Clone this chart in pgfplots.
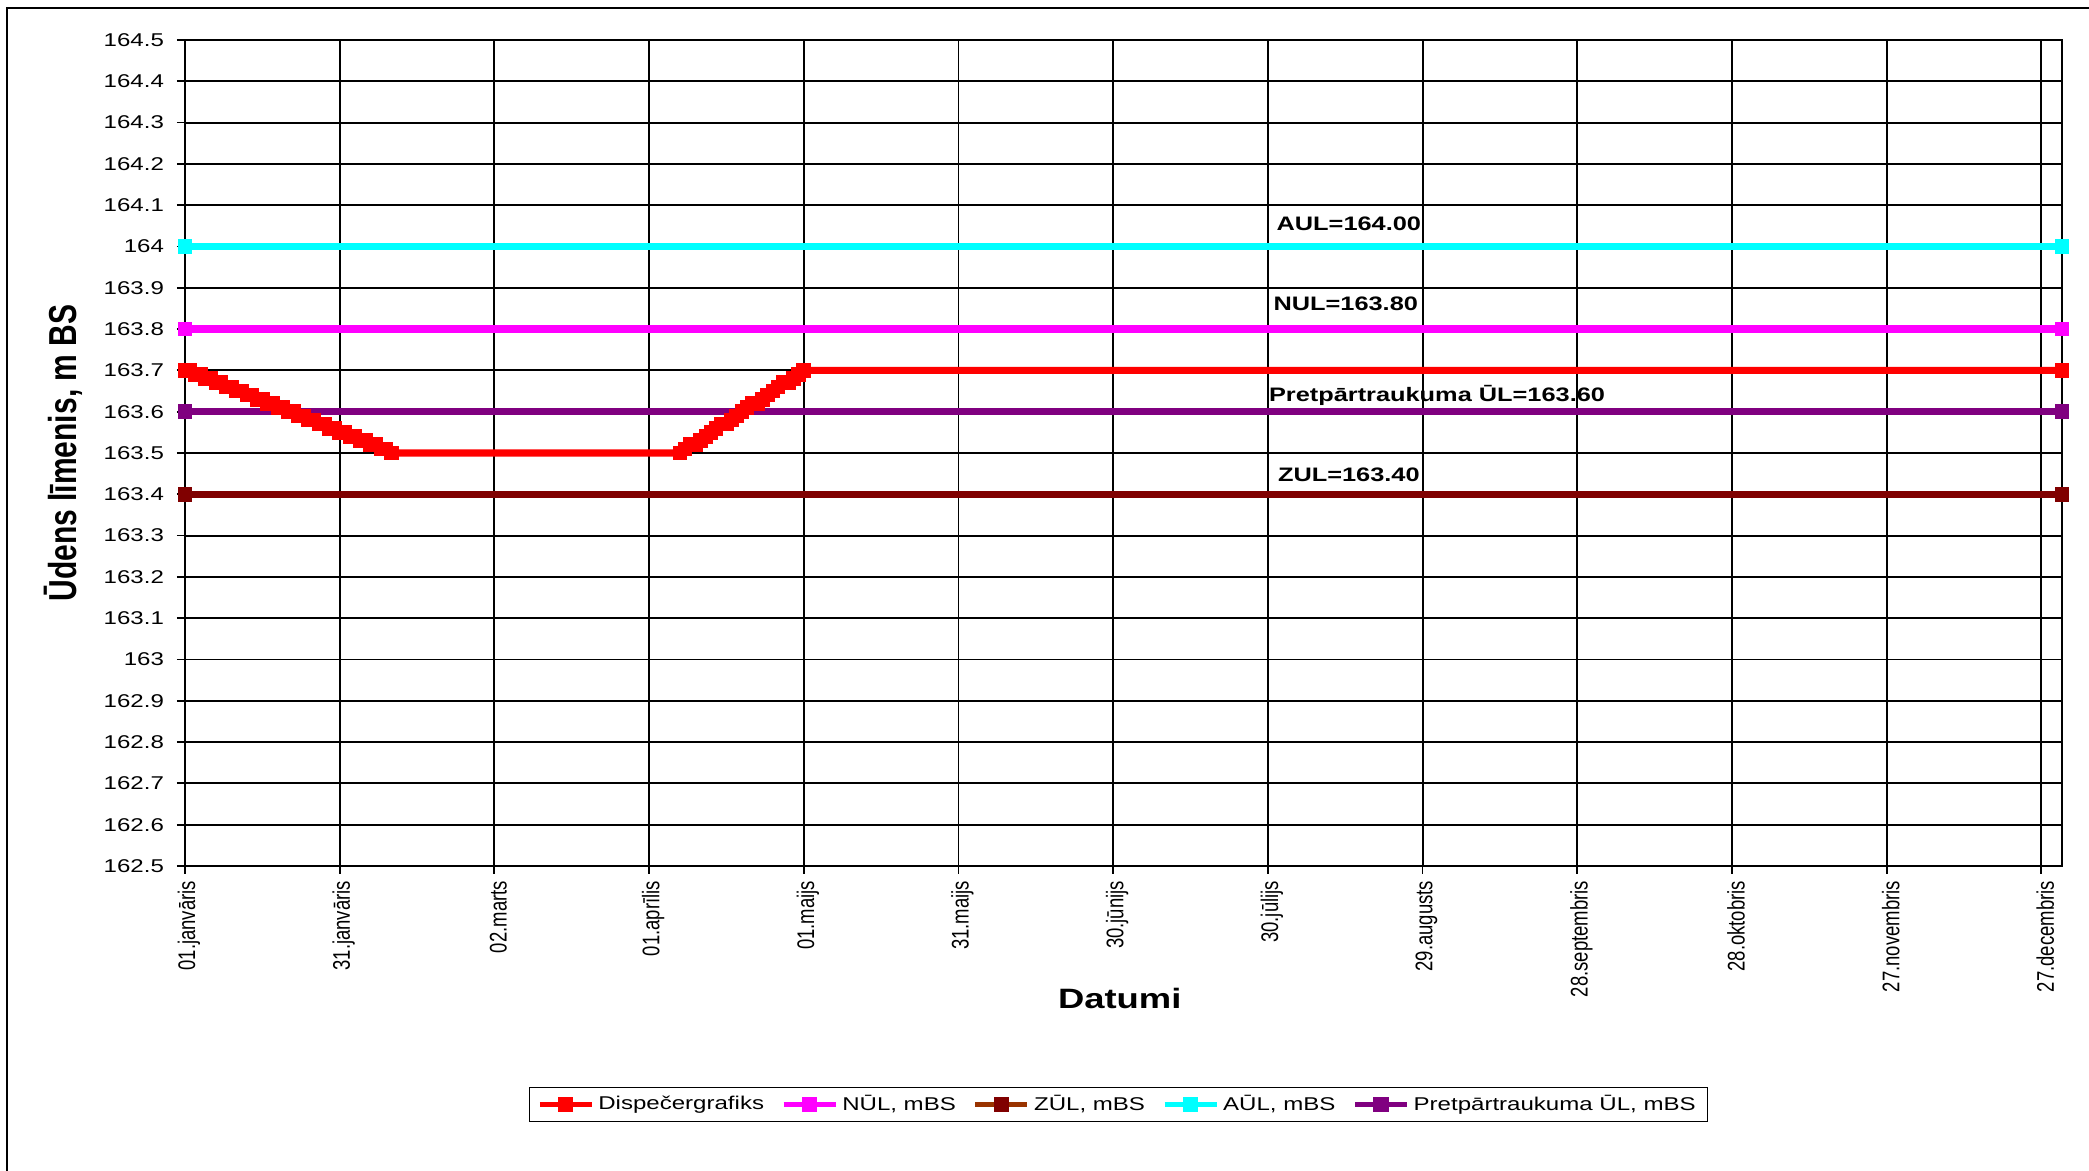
\documentclass[border=0pt]{standalone}
\usepackage{fontspec}
\setmainfont{Liberation Sans}
\usepackage{graphicx}
\usepackage{pgfplots}
\pgfplotsset{compat=1.18}
\definecolor{cRed}{RGB}{255,0,0}
\definecolor{cMag}{RGB}{255,0,255}
\definecolor{cMaroon}{RGB}{128,0,0}
\definecolor{cBrown}{RGB}{153,51,0}
\definecolor{cCyan}{RGB}{0,255,255}
\definecolor{cPurple}{RGB}{128,0,128}
\newcommand{\hs}[1]{\scalebox{1.3}[1]{#1}}
\newcommand{\vs}[1]{\scalebox{1}[1.3]{#1}}
\begin{document}
\begin{tikzpicture}
\path[use as bounding box] (0,0) rectangle (1044.5pt,585.5pt);
\fill[white] (0,0) rectangle (1044.5pt,585.5pt);
\draw[line width=1pt] (3.5pt,0) -- (3.5pt,581.5pt) -- (1044.5pt,581.5pt);
\begin{axis}[
  at={(92.5pt,152.5pt)}, anchor=south west,
  scale only axis, width=938.5pt, height=413pt,
  xmin=0, xmax=364, ymin=162.5, ymax=164.5,
  clip=false,
  xtick={0,30,60,90,120,150,180,210,240,270,300,330,360},
  xticklabels={\vs{01.janvāris},\vs{31.janvāris},\vs{02.marts},\vs{01.aprīlis},\vs{01.maijs},\vs{31.maijs},\vs{30.jūnijs},\vs{30.jūlijs},\vs{29.augusts},\vs{28.septembris},\vs{28.oktobris},\vs{27.novembris},\vs{27.decembris}},
  ytick={162.5,162.6,162.7,162.8,162.9,163,163.1,163.2,163.3,163.4,163.5,163.6,163.7,163.8,163.9,164,164.1,164.2,164.3,164.4,164.5},
  yticklabels={\hs{162.5},\hs{162.6},\hs{162.7},\hs{162.8},\hs{162.9},\hs{163},\hs{163.1},\hs{163.2},\hs{163.3},\hs{163.4},\hs{163.5},\hs{163.6},\hs{163.7},\hs{163.8},\hs{163.9},\hs{164},\hs{164.1},\hs{164.2},\hs{164.3},\hs{164.4},\hs{164.5}},
  xtick pos=bottom, ytick pos=left,
  tick align=outside, major tick length=4pt,
  grid=major, major grid style={black, line width=0.95pt},
  axis line style={black, line width=1.2pt},
  tick style={black, line width=0.9pt},
  tick label style={font=\fontsize{9.25}{11}\selectfont},
  xticklabel style={rotate=90, anchor=east, yshift=-2pt},
  yticklabel style={xshift=-3pt},
  xlabel={\hs{\bfseries Datumi}},
  ylabel={\vs{\bfseries Ūdens līmenis, m BS}},
  every axis x label/.style={at={(axis description cs:0.498,-0.161)}, anchor=center, font=\fontsize{14}{16}\selectfont},
  every axis y label/.style={at={(axis description cs:-0.065,0.5)}, anchor=center, rotate=90, font=\fontsize{15}{17}\selectfont},
  legend columns=5,
  legend style={at={(0.4973,-0.2887)}, anchor=center, draw=black, line width=0.6pt,
    font=\fontsize{9.25}{11}\selectfont, inner xsep=4pt, inner ysep=2pt,
    /tikz/every even column/.append style={column sep=6.5pt}},
  legend cell align=left,
  legend image code/.code={\draw[line width=2.6pt, mark size=2.5pt, mark repeat=2, mark phase=2] plot coordinates {(0pt,0pt) (13pt,0pt) (26pt,0pt)};},
  every axis plot/.append style={line width=3.6pt, mark=square*, mark size=1.85pt, mark options={solid}},
]
\addplot[color=cRed] coordinates {
(0,163.70)(1,163.70)(2,163.69)(3,163.69)(4,163.68)(5,163.68)(6,163.67)(7,163.67)(8,163.66)(9,163.66)
(10,163.65)(11,163.65)(12,163.64)(13,163.64)(14,163.63)(15,163.63)(16,163.62)(17,163.62)(18,163.61)(19,163.61)
(20,163.60)(21,163.60)(22,163.59)(23,163.59)(24,163.58)(25,163.58)(26,163.57)(27,163.57)(28,163.56)(29,163.56)
(30,163.55)(31,163.55)(32,163.54)(33,163.54)(34,163.53)(35,163.53)(36,163.52)(37,163.52)(38,163.51)(39,163.51)
(40,163.50)(96,163.50)(97,163.51)(98,163.52)(99,163.52)(100,163.53)(101,163.54)(102,163.55)(103,163.56)(104,163.57)
(105,163.57)(106,163.58)(107,163.59)(108,163.60)(109,163.61)(110,163.62)(111,163.62)(112,163.63)(113,163.64)(114,163.65)
(115,163.66)(116,163.67)(117,163.67)(118,163.68)(119,163.69)(120,163.70)(364,163.70)};
\addlegendentry{\hs{Dispečergrafiks}}
\addplot[color=cMag] coordinates {(0,163.8)(364,163.8)};
\addlegendentry{\hs{NŪL, mBS}}
\addplot[color=cMaroon, legend image code/.code={\draw[line width=2.6pt, color=cBrown, mark size=2.5pt, mark repeat=2, mark phase=2, mark options={fill=cMaroon, draw=cMaroon}] plot coordinates {(0pt,0pt) (13pt,0pt) (26pt,0pt)};}] coordinates {(0,163.4)(364,163.4)};
\addlegendentry{\hs{ZŪL, mBS}}
\addplot[color=cCyan] coordinates {(0,164.0)(364,164.0)};
\addlegendentry{\hs{AŪL, mBS}}
\addplot[color=cPurple] coordinates {(0,163.6)(364,163.6)};
\addlegendentry{\hs{Pretpārtraukuma ŪL, mBS}}
\node[font=\bfseries\fontsize{9.75}{11}\selectfont] at (axis cs:225.7,164.054) {\hs{AUL=164.00}};
\node[font=\bfseries\fontsize{9.75}{11}\selectfont] at (axis cs:225.1,163.861) {\hs{NUL=163.80}};
\node[font=\bfseries\fontsize{9.75}{11}\selectfont] at (axis cs:242.8,163.640) {\hs{Pretpārtraukuma ŪL=163.60}};
\node[font=\bfseries\fontsize{9.75}{11}\selectfont] at (axis cs:225.7,163.447) {\hs{ZUL=163.40}};
\end{axis}
\end{tikzpicture}
\end{document}
